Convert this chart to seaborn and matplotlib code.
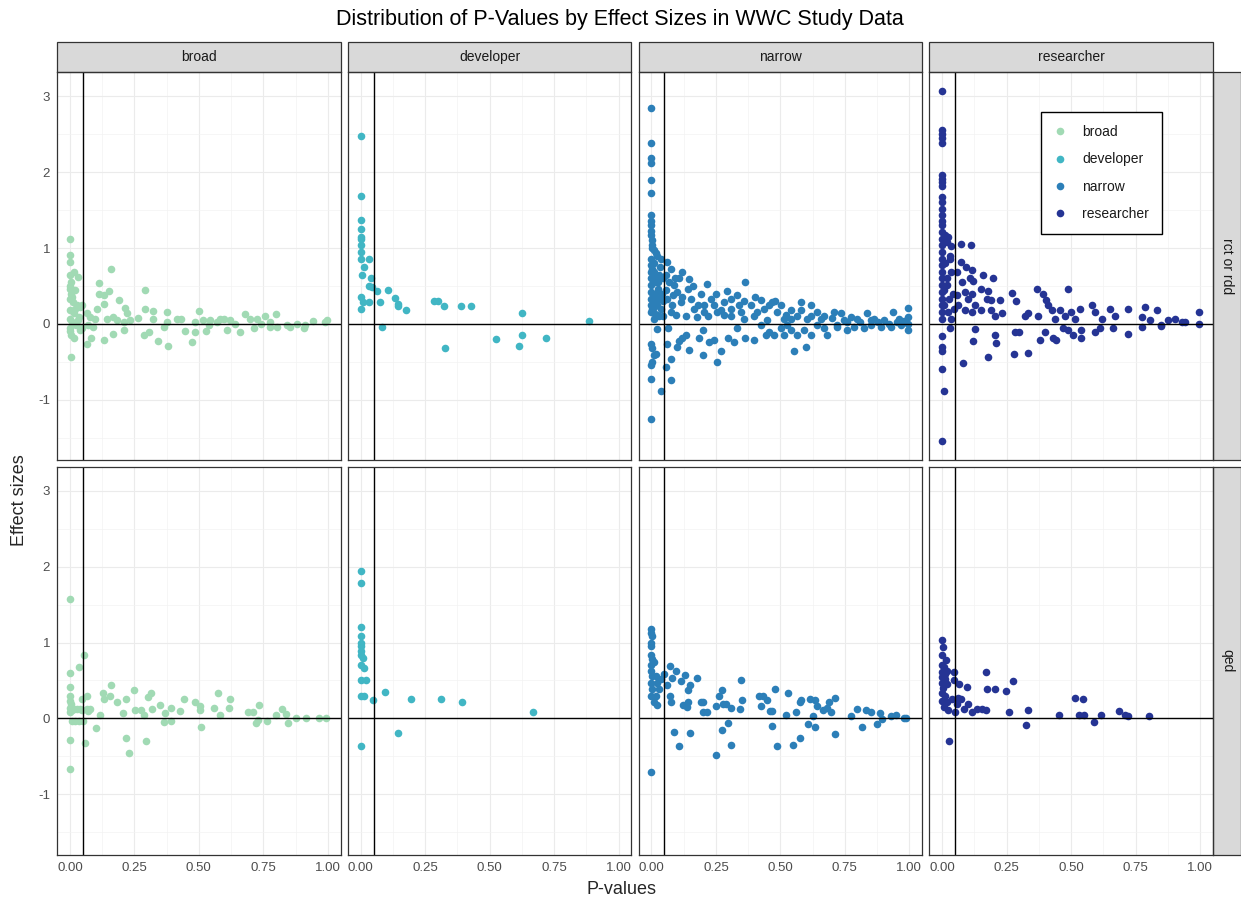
import matplotlib
matplotlib.use('Agg')
import matplotlib.pyplot as plt
from matplotlib.patches import Rectangle
from matplotlib.lines import Line2D
import pandas as pd
import seaborn as sns

outcomes = ['broad', 'developer', 'narrow', 'researcher']
designs = ['rct or rdd', 'qed']
palette = {'broad': '#a1dab4', 'developer': '#41b6c4',
           'narrow': '#2c7fb8', 'researcher': '#253494'}

# (p-value, effect size), one list per facet
broad_rct = [
    (0.000, 1.12), (0.000, 0.91), (0.000, 0.81), (0.014, 0.69), (0.031, 0.62), (0.000, 0.64),
    (0.004, 0.55), (0.000, 0.46), (0.006, 0.40), (0.000, 0.33), (0.012, 0.29), (0.027, 0.25),
    (0.040, 0.22), (0.000, 0.18), (0.017, 0.14), (0.034, 0.09), (0.000, 0.07), (0.008, 0.03),
    (0.025, -0.02), (0.000, -0.06), (0.040, -0.08), (0.006, -0.15), (0.014, -0.19), (0.004, -0.43),
    (0.047, -0.06), (0.047, 0.25), (0.160, 0.73), (0.111, 0.54), (0.114, 0.40), (0.150, 0.44),
    (0.134, 0.38), (0.133, 0.26), (0.191, 0.32), (0.214, 0.21), (0.221, 0.14), (0.292, 0.45),
    (0.292, 0.20), (0.322, 0.17), (0.266, 0.08), (0.324, 0.06), (0.376, 0.16), (0.376, 0.03),
    (0.415, 0.06), (0.430, 0.07), (0.499, 0.17), (0.486, 0.03), (0.518, 0.05), (0.544, 0.05),
    (0.583, 0.07), (0.596, 0.06), (0.621, 0.05), (0.680, 0.13), (0.699, 0.07), (0.725, 0.07),
    (0.757, 0.11), (0.798, 0.13), (0.776, 0.03), (0.841, -0.01), (0.880, 0.00), (0.912, -0.02),
    (0.944, 0.04), (0.990, 0.03), (0.996, 0.05), (0.134, -0.21), (0.068, -0.27), (0.083, -0.18),
    (0.169, -0.13), (0.208, -0.08), (0.286, -0.15), (0.305, -0.11), (0.340, -0.23), (0.382, -0.29),
    (0.363, -0.04), (0.447, -0.10), (0.473, -0.24), (0.486, -0.11), (0.527, -0.10), (0.609, -0.08),
    (0.660, -0.11), (0.712, -0.06), (0.776, -0.04), (0.802, -0.04), (0.854, -0.04), (0.906, -0.05),
    (0.089, -0.04), (0.098, 0.07), (0.072, -0.02), (0.105, 0.19), (0.066, 0.15), (0.079, 0.09),
    (0.143, 0.07), (0.169, 0.09), (0.182, 0.05), (0.208, 0.03), (0.234, 0.05), (0.540, -0.02),
    (0.570, 0.03), (0.640, 0.00), (0.740, 0.00), (0.002, 0.50), (0.010, 0.36), (0.020, 0.20),
    (0.030, 0.05), (0.002, -0.10), (0.018, 0.45),
]
developer_rct = [
    (0.000, 2.48), (0.000, 1.69), (0.000, 1.37), (0.000, 1.25), (0.000, 1.15), (0.000, 1.12),
    (0.000, 1.04), (0.000, 0.95), (0.000, 0.85), (0.034, 0.86), (0.014, 0.75), (0.006, 0.65),
    (0.041, 0.61), (0.034, 0.50), (0.043, 0.49), (0.062, 0.43), (0.106, 0.45), (0.133, 0.34),
    (0.143, 0.26), (0.143, 0.23), (0.176, 0.18), (0.076, 0.29), (0.000, 0.35), (0.010, 0.29),
    (0.031, 0.29), (0.000, 0.20), (0.286, 0.30), (0.301, 0.30), (0.324, 0.23), (0.389, 0.24),
    (0.428, 0.23), (0.627, 0.14), (0.885, 0.04), (0.083, -0.04), (0.326, -0.32), (0.523, -0.20),
    (0.627, -0.14), (0.614, -0.29), (0.718, -0.19),
]
narrow_rct = [
    (0.000, 2.84), (0.000, 2.38), (0.000, 2.18), (0.000, 2.12), (0.000, 1.90), (0.000, 1.73),
    (0.000, 1.43), (0.000, 1.36), (0.000, 1.30), (0.000, 1.23), (0.000, 1.17), (0.004, 1.10),
    (0.004, 1.04), (0.010, 0.97), (0.017, 0.93), (0.023, 0.90), (0.036, 0.86), (0.000, 0.86),
    (0.000, 0.77), (0.000, 0.68), (0.000, 0.60), (0.000, 0.51), (0.000, 0.42), (0.000, 0.33),
    (0.000, 0.25), (0.000, 0.16), (0.010, 0.68), (0.017, 0.60), (0.026, 0.46), (0.030, 0.33),
    (0.021, 0.25), (0.036, 0.20), (0.043, 0.11), (0.008, 0.07), (0.004, 1.00), (0.008, 0.80),
    (0.012, 0.55), (0.006, 0.38), (0.015, 0.30), (0.020, 0.12), (0.030, 0.65), (0.040, 0.40),
    (0.004, 0.20), (0.010, 0.15), (0.062, 0.82), (0.075, 0.73), (0.056, 0.64), (0.068, 0.55),
    (0.088, 0.51), (0.101, 0.42), (0.062, 0.33), (0.081, 0.25), (0.075, 0.16), (0.114, 0.29),
    (0.120, 0.68), (0.146, 0.59), (0.107, 0.60), (0.140, 0.46), (0.152, 0.33), (0.165, 0.20),
    (0.133, 0.11), (0.178, 0.09), (0.191, 0.40), (0.217, 0.53), (0.204, 0.25), (0.230, 0.33),
    (0.243, 0.25), (0.256, 0.16), (0.282, 0.29), (0.292, 0.44), (0.307, 0.33), (0.333, 0.38),
    (0.340, 0.25), (0.346, 0.16), (0.362, 0.55), (0.359, 0.07), (0.385, 0.25), (0.398, 0.11),
    (0.424, 0.31), (0.437, 0.20), (0.456, 0.25), (0.469, 0.29), (0.488, 0.16), (0.501, 0.25),
    (0.514, 0.07), (0.540, 0.18), (0.579, 0.29), (0.566, 0.11), (0.618, 0.25), (0.605, 0.07),
    (0.643, 0.16), (0.669, 0.11), (0.708, 0.16), (0.734, 0.14), (0.773, 0.09), (0.798, 0.07),
    (0.837, 0.14), (0.863, 0.07), (0.902, 0.05), (0.937, 0.16), (0.953, 0.03), (0.979, 0.04),
    (0.995, 0.21), (0.995, 0.09), (0.995, 0.00), (0.995, -0.08), (0.966, -0.02), (0.928, -0.04),
    (0.889, -0.04), (0.850, -0.02), (0.824, -0.06), (0.786, -0.04), (0.760, -0.08), (0.721, -0.04),
    (0.682, -0.15), (0.669, -0.06), (0.643, -0.02), (0.618, -0.15), (0.598, -0.31), (0.592, -0.08),
    (0.566, -0.15), (0.553, -0.36), (0.540, -0.08), (0.514, -0.15), (0.501, -0.06), (0.475, -0.15),
    (0.456, -0.11), (0.443, -0.15), (0.424, -0.02), (0.398, -0.21), (0.362, -0.18), (0.333, -0.06),
    (0.320, -0.24), (0.295, -0.18), (0.269, -0.36), (0.256, -0.50), (0.243, -0.21), (0.224, -0.24),
    (0.198, -0.08), (0.198, -0.41), (0.185, -0.19), (0.146, -0.35), (0.133, -0.15), (0.120, -0.18),
    (0.101, -0.30), (0.107, -0.23), (0.075, -0.46), (0.075, -0.74), (0.062, -0.26), (0.065, -0.05),
    (0.056, -0.57), (0.039, -0.88), (0.021, -0.07), (0.000, -0.26), (0.004, -0.32), (0.008, -0.41),
    (0.000, -0.54), (0.000, -0.72), (0.000, -1.25), (0.017, -0.39), (0.004, -0.50), (0.204, 0.16),
    (0.269, 0.18), (0.307, 0.11), (0.411, 0.16), (0.540, 0.07), (0.656, 0.07), (0.747, 0.05),
    (0.850, 0.05), (0.527, -0.02), (0.721, -0.02), (0.090, 0.60), (0.120, 0.35), (0.160, 0.50),
    (0.180, 0.25), (0.220, 0.10), (0.250, 0.40), (0.280, 0.12), (0.310, 0.20), (0.360, 0.30),
    (0.400, 0.35), (0.450, 0.05), (0.480, 0.30), (0.520, 0.12), (0.580, 0.18), (0.620, 0.10),
    (0.700, 0.08), (0.760, 0.02), (0.810, 0.03), (0.880, 0.02), (0.920, 0.00), (0.960, 0.06),
    (0.002, 0.72), (0.006, 0.55), (0.014, 0.40), (0.025, 0.55), (0.034, 0.75), (0.045, 0.30),
    (0.010, 0.22), (0.028, 0.10), (0.045, 0.60), (0.055, 0.45), (0.085, 0.38), (0.095, 0.12),
]
researcher_rct = [
    (0.000, 3.07), (0.000, 2.56), (0.000, 2.50), (0.000, 2.45), (0.000, 2.39), (0.000, 1.96),
    (0.000, 1.91), (0.000, 1.87), (0.000, 1.82), (0.000, 1.67), (0.000, 1.61), (0.000, 1.52),
    (0.000, 1.43), (0.000, 1.36), (0.000, 1.30), (0.000, 1.21), (0.000, 1.12), (0.000, 1.04),
    (0.000, 0.95), (0.000, 0.86), (0.000, 0.77), (0.000, 0.68), (0.000, 0.60), (0.000, 0.51),
    (0.000, 0.42), (0.000, 0.33), (0.000, 0.25), (0.000, 0.16), (0.000, 0.07), (0.010, 1.17),
    (0.017, 1.08), (0.023, 1.15), (0.030, 0.90), (0.036, 0.68), (0.017, 0.51), (0.026, 0.33),
    (0.008, 0.25), (0.021, 0.16), (0.036, 0.07), (0.030, 0.86), (0.012, 0.80), (0.006, 0.45),
    (0.020, 0.60), (0.040, 0.40), (0.045, 0.20), (0.000, -0.16), (0.000, -0.30), (0.000, -0.36),
    (0.000, -0.59), (0.006, -0.89), (0.000, -1.54), (0.030, -0.06), (0.081, -0.52), (0.036, 1.03),
    (0.071, 1.05), (0.111, 1.04), (0.071, 0.82), (0.094, 0.75), (0.114, 0.71), (0.107, 0.60),
    (0.120, 0.57), (0.159, 0.65), (0.056, 0.68), (0.075, 0.55), (0.088, 0.42), (0.056, 0.38),
    (0.101, 0.33), (0.062, 0.25), (0.114, 0.40), (0.152, 0.46), (0.178, 0.44), (0.198, 0.60),
    (0.172, 0.33), (0.191, 0.31), (0.224, 0.31), (0.127, 0.25), (0.152, 0.18), (0.191, 0.18),
    (0.204, 0.11), (0.230, 0.14), (0.088, 0.18), (0.114, 0.16), (0.269, 0.41), (0.288, 0.30),
    (0.320, 0.11), (0.333, 0.14), (0.366, 0.46), (0.391, 0.39), (0.404, 0.31), (0.411, 0.25),
    (0.372, 0.11), (0.424, 0.18), (0.437, 0.07), (0.456, 0.18), (0.488, 0.46), (0.501, 0.16),
    (0.475, 0.11), (0.514, 0.07), (0.533, 0.20), (0.579, 0.25), (0.592, 0.16), (0.618, 0.07),
    (0.650, 0.20), (0.670, 0.11), (0.721, 0.20), (0.786, 0.22), (0.773, 0.09), (0.805, 0.05),
    (0.831, 0.18), (0.850, -0.02), (0.876, 0.05), (0.902, 0.07), (0.928, 0.03), (0.941, 0.03),
    (0.996, 0.16), (0.996, 0.00), (0.129, -0.07), (0.120, -0.23), (0.178, -0.43), (0.204, -0.14),
    (0.210, -0.25), (0.279, -0.40), (0.284, -0.11), (0.297, -0.11), (0.331, -0.38), (0.381, -0.21),
    (0.398, -0.11), (0.430, -0.19), (0.443, -0.21), (0.469, -0.06), (0.488, -0.08), (0.508, -0.15),
    (0.540, -0.08), (0.540, -0.19), (0.592, -0.11), (0.611, -0.06), (0.662, -0.06), (0.721, -0.13),
    (0.773, -0.04), (0.850, -0.03),
]
broad_qed = [
    (0.000, 1.57), (0.053, 0.84), (0.037, 0.68), (0.000, 0.60), (0.000, 0.42), (0.000, 0.30),
    (0.000, 0.23), (0.004, 0.19), (0.000, 0.14), (0.008, 0.11), (0.000, 0.08), (0.014, 0.12),
    (0.027, 0.13), (0.040, 0.12), (0.047, 0.26), (0.066, 0.30), (0.066, 0.12), (0.072, 0.10),
    (0.079, 0.13), (0.047, 0.11), (0.008, -0.03), (0.021, -0.03), (0.034, -0.03), (0.050, -0.03),
    (0.000, -0.29), (0.000, -0.66), (0.059, -0.32), (0.102, -0.13), (0.116, 0.04), (0.130, 0.33),
    (0.134, 0.25), (0.156, 0.30), (0.159, 0.44), (0.182, 0.21), (0.205, 0.07), (0.218, 0.25),
    (0.218, -0.26), (0.231, -0.46), (0.247, 0.38), (0.251, 0.11), (0.275, 0.11), (0.288, 0.04),
    (0.296, -0.30), (0.301, 0.28), (0.315, 0.33), (0.320, 0.13), (0.351, 0.18), (0.363, -0.05),
    (0.370, 0.07), (0.393, 0.14), (0.393, -0.04), (0.428, 0.10), (0.443, 0.25), (0.487, 0.21),
    (0.503, 0.17), (0.503, 0.11), (0.509, -0.11), (0.557, 0.14), (0.574, 0.33), (0.583, 0.04),
    (0.616, 0.14), (0.620, 0.25), (0.689, 0.09), (0.709, 0.09), (0.721, -0.06), (0.731, -0.02),
    (0.734, 0.18), (0.766, -0.04), (0.798, 0.05), (0.822, 0.13), (0.837, 0.06), (0.844, -0.06),
    (0.875, 0.01), (0.916, 0.00), (0.964, 0.00), (0.994, 0.00),
]
developer_qed = [
    (0.000, 1.94), (0.000, 1.78), (0.000, 1.20), (0.000, 1.08), (0.000, 1.00), (0.000, 0.95),
    (0.000, 0.89), (0.000, 0.84), (0.010, 0.79), (0.000, 0.70), (0.013, 0.66), (0.000, 0.51),
    (0.019, 0.51), (0.000, 0.29), (0.014, 0.30), (0.047, 0.24), (0.096, 0.35), (0.196, 0.26),
    (0.313, 0.26), (0.391, 0.22), (0.667, 0.09), (0.146, -0.19), (0.000, -0.37),
]
narrow_qed = [
    (0.000, 1.18), (0.000, 1.13), (0.004, 1.09), (0.000, 1.00), (0.000, 0.96), (0.000, 0.83),
    (0.004, 0.78), (0.010, 0.75), (0.000, 0.71), (0.000, 0.63), (0.004, 0.56), (0.017, 0.56),
    (0.000, 0.47), (0.023, 0.47), (0.004, 0.39), (0.030, 0.39), (0.000, 0.30), (0.017, 0.30),
    (0.008, 0.22), (0.021, 0.18), (0.000, -0.70), (0.036, 0.52), (0.049, 0.58), (0.062, 0.44),
    (0.071, 0.69), (0.081, 0.53), (0.097, 0.63), (0.114, 0.49), (0.130, 0.57), (0.149, 0.44),
    (0.143, 0.37), (0.178, 0.53), (0.072, 0.30), (0.075, 0.21), (0.121, 0.18), (0.137, 0.15),
    (0.142, 0.22), (0.191, 0.21), (0.200, 0.21), (0.198, 0.09), (0.214, 0.09), (0.249, 0.16),
    (0.261, 0.30), (0.275, 0.37), (0.279, 0.19), (0.288, 0.19), (0.307, 0.14), (0.346, 0.51),
    (0.350, 0.24), (0.344, 0.13), (0.417, 0.30), (0.434, 0.30), (0.426, 0.17), (0.450, 0.24),
    (0.460, 0.10), (0.469, 0.10), (0.478, 0.39), (0.522, 0.05), (0.530, 0.34), (0.559, 0.08),
    (0.576, 0.22), (0.581, 0.24), (0.614, 0.25), (0.634, 0.24), (0.627, 0.03), (0.643, 0.17),
    (0.667, 0.11), (0.682, 0.14), (0.689, 0.22), (0.698, 0.08), (0.712, 0.27), (0.775, 0.03),
    (0.798, 0.12), (0.832, 0.11), (0.850, 0.08), (0.885, 0.07), (0.895, -0.01), (0.928, 0.03),
    (0.950, 0.04), (0.979, 0.01), (0.986, 0.00), (0.088, -0.18), (0.106, -0.37), (0.149, -0.19),
    (0.252, -0.48), (0.275, -0.15), (0.295, -0.06), (0.310, -0.35), (0.466, -0.10), (0.487, -0.36),
    (0.549, -0.35), (0.575, -0.26), (0.609, -0.07), (0.633, -0.11), (0.712, -0.21), (0.818, -0.11),
    (0.873, -0.07),
]
researcher_qed = [
    (0.000, 1.04), (0.004, 0.94), (0.000, 0.84), (0.013, 0.77), (0.000, 0.71), (0.008, 0.68),
    (0.017, 0.63), (0.000, 0.61), (0.000, 0.54), (0.010, 0.52), (0.000, 0.47), (0.017, 0.45),
    (0.000, 0.34), (0.010, 0.30), (0.000, 0.23), (0.017, 0.21), (0.021, 0.11), (0.027, -0.30),
    (0.044, 0.61), (0.045, 0.51), (0.066, 0.46), (0.098, 0.42), (0.039, 0.25), (0.062, 0.27),
    (0.071, 0.25), (0.056, 0.19), (0.084, 0.13), (0.101, 0.19), (0.049, 0.09), (0.114, 0.09),
    (0.136, 0.12), (0.156, 0.12), (0.168, 0.11), (0.169, 0.61), (0.173, 0.39), (0.205, 0.39),
    (0.247, 0.36), (0.274, 0.49), (0.260, 0.09), (0.332, 0.11), (0.324, -0.09), (0.453, 0.05),
    (0.516, 0.27), (0.545, 0.25), (0.530, 0.05), (0.550, 0.05), (0.589, -0.05), (0.615, 0.04),
    (0.686, 0.10), (0.708, 0.04), (0.721, 0.03), (0.800, 0.03), (0.004, 0.40), (0.012, 0.58),
    (0.006, 0.15),
]

panels = {
    ('broad', 'rct or rdd'): broad_rct, ('developer', 'rct or rdd'): developer_rct,
    ('narrow', 'rct or rdd'): narrow_rct, ('researcher', 'rct or rdd'): researcher_rct,
    ('broad', 'qed'): broad_qed, ('developer', 'qed'): developer_qed,
    ('narrow', 'qed'): narrow_qed, ('researcher', 'qed'): researcher_qed,
}
frames = []
for (outcome, design), pts in panels.items():
    d = pd.DataFrame(pts, columns=['p_value', 'effect_size'])
    d['outcome'] = outcome
    d['design'] = design
    frames.append(d)
df = pd.concat(frames, ignore_index=True)

sns.set_theme(style='white')
plt.rcParams['font.family'] = ['Liberation Sans', 'DejaVu Sans']
plt.rcParams['axes.unicode_minus'] = False

g = sns.FacetGrid(df, row='design', col='outcome', hue='outcome', palette=palette,
                  row_order=designs, col_order=outcomes, hue_order=outcomes,
                  sharex=True, sharey=True, despine=False, height=3, aspect=1)
g.map_dataframe(sns.scatterplot, x='p_value', y='effect_size', s=30, linewidth=0)
g.set_titles('')
g.set_axis_labels('', '')

fig = g.figure
fig.set_size_inches(12.41, 8.99)
fig.subplots_adjust(left=57 / 1241, right=1213 / 1241, top=1 - 72 / 899,
                    bottom=1 - 855 / 899, wspace=0.025, hspace=0.0155)

dark = '#333333'
for i, design in enumerate(designs):
    for j, outcome in enumerate(outcomes):
        ax = g.axes[i, j]
        ax.set_xlim(-0.05, 1.05)
        ax.set_ylim(-1.8, 3.32)
        ax.set_xticks([0, 0.25, 0.5, 0.75, 1.0])
        ax.set_xticks([0.125, 0.375, 0.625, 0.875], minor=True)
        ax.set_yticks([-1, 0, 1, 2, 3])
        ax.set_yticks([-1.5, -0.5, 0.5, 1.5, 2.5], minor=True)
        ax.grid(which='major', color='#ebebeb', linewidth=0.8)
        ax.grid(which='minor', color='#f2f2f2', linewidth=0.45)
        ax.set_axisbelow(True)
        ax.axvline(0.05, color='black', linewidth=1.0, zorder=1.5)
        ax.axhline(0, color='black', linewidth=1.0, zorder=1.5)
        for sp in ax.spines.values():
            sp.set_color(dark)
            sp.set_linewidth(0.9)
        ax.tick_params(which='minor', length=0)
        ax.tick_params(axis='x', length=3 if i == 1 else 0, color=dark,
                       labelsize=9.5, labelcolor='#4d4d4d', pad=2)
        ax.tick_params(axis='y', length=3 if j == 0 else 0, color=dark,
                       labelsize=9.5, labelcolor='#4d4d4d', pad=2)
        if i == 1:
            ax.set_xticklabels(['0.00', '0.25', '0.50', '0.75', '1.00'])
        if i == 0:
            ax.add_patch(Rectangle((0, 1), 1, 30 / 388, transform=ax.transAxes,
                                   clip_on=False, facecolor='#d9d9d9',
                                   edgecolor=dark, linewidth=0.9))
            ax.text(0.5, 1 + 15 / 388, outcome, transform=ax.transAxes,
                    ha='center', va='center', fontsize=10, color='#1a1a1a')
        if j == 3:
            ax.add_patch(Rectangle((1, 0), 28 / 283, 1, transform=ax.transAxes,
                                   clip_on=False, facecolor='#d9d9d9',
                                   edgecolor=dark, linewidth=0.9))
            ax.text(1 + 14 / 283, 0.5, design, transform=ax.transAxes, rotation=-90,
                    ha='center', va='center', fontsize=10, color='#1a1a1a')

handles = [Line2D([], [], marker='o', linestyle='', markersize=5.5,
                  markerfacecolor=palette[o], markeredgewidth=0) for o in outcomes]
leg = g.axes[0, 3].legend(handles, outcomes, loc='upper left',
                          bbox_to_anchor=(1041 / 1241, 1 - 112 / 899),
                          bbox_transform=fig.transFigure, frameon=True, fancybox=False,
                          edgecolor='black', framealpha=1, fontsize=10,
                          borderpad=0.95, labelspacing=0.95, handlelength=0.8,
                          handletextpad=1.2, borderaxespad=0)
leg.get_frame().set_linewidth(1.0)
for t in leg.get_texts():
    t.set_color('#1a1a1a')

fig.text(620 / 1241, 1 - 20 / 899, 'Distribution of P-Values by Effect Sizes in WWC Study Data',
         ha='center', va='center', fontsize=15.5, color='black')
fig.text(622 / 1241, 1 - 889 / 899, 'P-values', ha='center', va='center', fontsize=13)
fig.text(20 / 1241, 1 - 500 / 899, 'Effect sizes', ha='center', va='center',
         rotation=90, fontsize=13)

fig.savefig('out.png', dpi=100)
